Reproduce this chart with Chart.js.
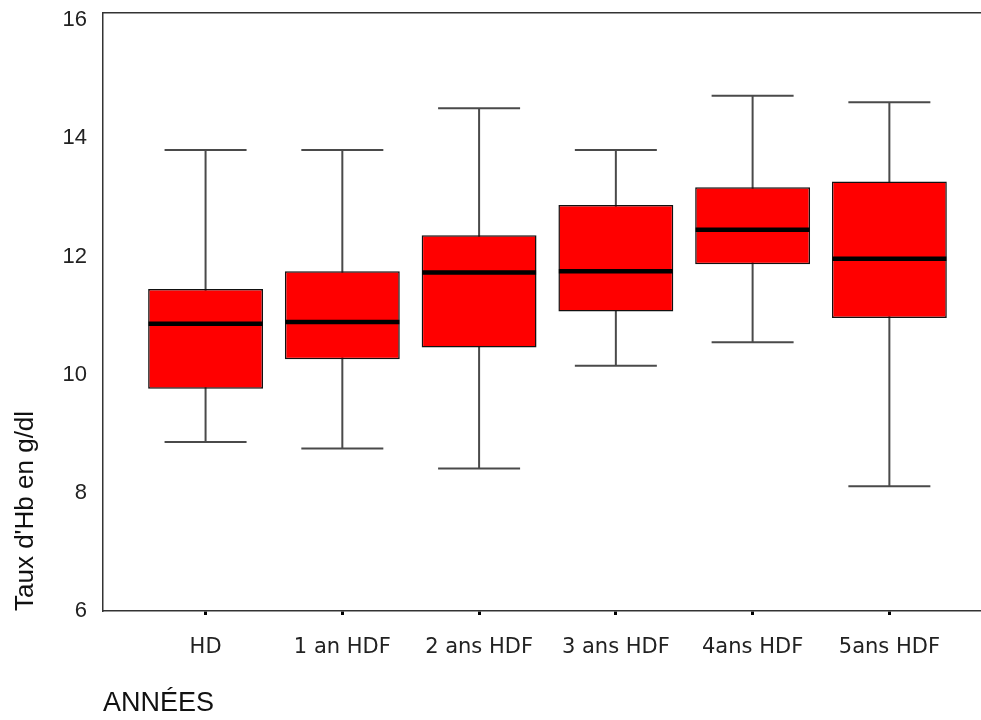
<!DOCTYPE html>
<html>
<head>
<meta charset="utf-8">
<script src="https://cdn.jsdelivr.net/npm/chart.js@4/dist/chart.umd.min.js"></script>
<style>
  html, body { margin: 0; padding: 0; background: #fff; overflow: hidden; }
  #wrap { width: 981px; height: 720px; position: relative; }
</style>
</head>
<body>
<div id="wrap"><canvas id="chart"></canvas></div>
<script>
const categories = ['HD', '1 an HDF', '2 ans HDF', '3 ans HDF', '4ans HDF', '5ans HDF'];
const whiskerLow = [8.86, 8.75, 8.41, 10.15, 10.55, 8.11];
const boxLow = [9.76, 10.26, 10.46, 11.07, 11.87, 10.96];
const median = [10.86, 10.89, 11.73, 11.75, 12.45, 11.96];
const boxHigh = [11.45, 11.75, 12.36, 12.87, 13.17, 13.27];
const whiskerHigh = [13.80, 13.80, 14.51, 13.80, 14.72, 14.61];
const yTicks = [6, 8, 10, 12, 14, 16];

const axisColor = '#333';
const toPoints = (arr) => arr.map((v, i) => ({ x: i, y: v }));
const toRange = (lo, hi) => lo.map((v, i) => ({ x: i, y: [v, hi[i]] }));
const noPadding = (s) => {
  s.paddingTop = 0;
  s.paddingBottom = 0;
  s.paddingLeft = 0;
  s.paddingRight = 0;
};

const datasets = [
  {
    type: 'scatter',
    data: toPoints(median),
    pointStyle: 'line',
    pointRadius: 57,
    pointHoverRadius: 57,
    pointBorderWidth: 4.5,
    pointBorderColor: '#000',
    order: 0,
  },
  {
    type: 'bar',
    data: toRange(boxLow, boxHigh),
    backgroundColor: '#ff0000',
    borderColor: '#111',
    borderWidth: 1.5,
    borderSkipped: false,
    grouped: false,
    barPercentage: 0.84,
    categoryPercentage: 1,
    order: 1,
  },
  {
    type: 'bar',
    data: toRange(whiskerLow, whiskerHigh),
    backgroundColor: '#4a4a4a',
    borderWidth: 0,
    grouped: false,
    maxBarThickness: 2,
    order: 2,
  },
  {
    type: 'scatter',
    data: toPoints(whiskerHigh).concat(toPoints(whiskerLow)),
    pointStyle: 'line',
    pointRadius: 41,
    pointHoverRadius: 41,
    pointBorderWidth: 2,
    pointBorderColor: '#4a4a4a',
    order: 2,
  },
];

new Chart(document.getElementById('chart'), {
  type: 'bar',
  data: { datasets },
  options: {
    responsive: true,
    maintainAspectRatio: false,
    animation: false,
    events: [],
    layout: { autoPadding: false, padding: { top: 13, right: 0, bottom: 0, left: 0 } },
    plugins: { legend: { display: false }, tooltip: { enabled: false } },
    scales: {
      x: {
        type: 'linear',
        position: 'bottom',
        offset: false,
        min: -0.75,
        max: 5.67,
        afterBuildTicks: (s) => { s.ticks = categories.map((c, i) => ({ value: i })); },
        afterFit: (s) => {
          s.height = 109;
          noPadding(s);
        },
        ticks: {
          callback: (v) => categories[v],
          autoSkip: false,
          maxRotation: 0,
          padding: 20,
          color: '#222',
          font: { family: '"DejaVu Sans", Verdana, sans-serif', size: 21 },
        },
        grid: {
          display: true,
          offset: false,
          drawOnChartArea: false,
          drawTicks: true,
          tickLength: 4,
          tickWidth: 3,
          tickColor: '#000',
        },
        border: { display: true, color: axisColor, width: 1.5 },
        title: {
          display: true,
          text: 'ANNÉES',
          align: 'start',
          color: '#111',
          padding: { top: 0, bottom: 0 },
          font: { family: '"Liberation Sans", Arial, sans-serif', size: 27 },
        },
      },
      xTop: {
        type: 'linear',
        position: 'top',
        offset: false,
        min: -0.75,
        max: 5.67,
        afterFit: (s) => {
          s.height = 0;
          noPadding(s);
        },
        ticks: { display: false },
        grid: { display: false, drawTicks: false },
        border: { display: true, color: axisColor, width: 1.5 },
      },
      y: {
        type: 'linear',
        min: 6,
        max: 16.12,
        afterBuildTicks: (s) => { s.ticks = yTicks.map((v) => ({ value: v })); },
        afterFit: (s) => {
          s.width = 103;
          noPadding(s);
        },
        ticks: {
          padding: 16,
          color: '#222',
          font: { family: '"Liberation Sans", Arial, sans-serif', size: 22 },
        },
        grid: { display: false, drawTicks: false },
        border: { display: true, color: axisColor, width: 1.5 },
        title: {
          display: true,
          text: "Taux d'Hb en g/dl",
          align: 'start',
          color: '#111',
          padding: { top: 10, bottom: 0 },
          font: { family: '"Liberation Sans", Arial, sans-serif', size: 26 },
        },
      },
    },
  },
});
</script>
</body>
</html>
